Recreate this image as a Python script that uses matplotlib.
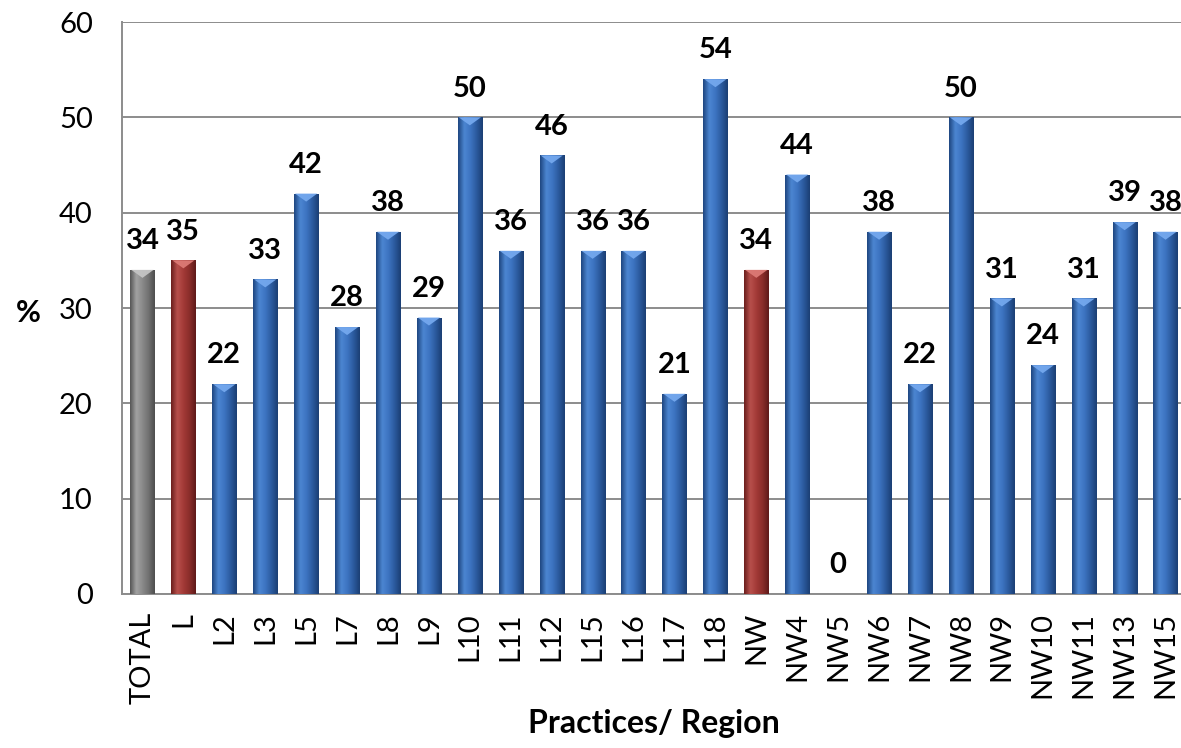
import matplotlib
matplotlib.use("Agg")
import matplotlib.pyplot as plt
import numpy as np
from matplotlib.colors import LinearSegmentedColormap
from matplotlib.patches import Polygon

plt.rcParams['font.family'] = ['Lato', 'DejaVu Sans']

categories = ["TOTAL", "L", "L2", "L3", "L5", "L7", "L8", "L9", "L10", "L11", "L12",
              "L15", "L16", "L17", "L18", "NW", "NW4", "NW5", "NW6", "NW7", "NW8",
              "NW9", "NW10", "NW11", "NW13", "NW15"]
values = [34, 35, 22, 33, 42, 28, 38, 29, 50, 36, 46, 36, 36, 21, 54, 34, 44, 0,
          38, 22, 50, 31, 24, 31, 39, 38]
groups = ["total", "region"] + ["practice"] * 13 + ["region"] + ["practice"] * 10
yticks = [0, 10, 20, 30, 40, 50, 60]

palettes = {
    "practice": ["#1E4680", "#4C86D2", "#3D74C1", "#2B5A9E", "#1B3F74"],
    "region":   ["#6A1E1C", "#B8504C", "#A33A37", "#8A2D2A", "#5E1A19"],
    "total":    ["#555555", "#A2A2A2", "#8A8A8A", "#717171", "#4E4E4E"],
}
bevel_col = {"practice": "#74A8EE", "region": "#DC7A75", "total": "#C4C4C4"}

W, H = 1181, 748
fig = plt.figure(figsize=(W / 100, H / 100), dpi=100)
ax = fig.add_axes([122 / W, 154 / H, 1064 / W, 572 / H])

x = np.arange(len(categories))
bw = 0.59
bars = ax.bar(x, values, width=bw, color="none", edgecolor="none", zorder=3)
ax.set_xlim(-0.5, len(categories) - 0.5)
ax.set_ylim(0, 60)

px_per_unit = 572 / 60.0
bevel_h = 8 / px_per_unit

grad = np.linspace(0, 1, 64).reshape(1, -1)
for rect, v, g in zip(bars, values, groups):
    if v <= 0:
        continue
    cmap = LinearSegmentedColormap.from_list(g, palettes[g])
    x0 = rect.get_x()
    im = ax.imshow(grad, cmap=cmap, aspect="auto", extent=[x0, x0 + bw, 0, v],
                   zorder=3, interpolation="bicubic")
    im.set_clip_path(rect)
    # top bevel (light downward triangle)
    tri = Polygon([[x0 + bw * 0.04, v], [x0 + bw * 0.96, v], [x0 + bw * 0.5, v - bevel_h]],
                  closed=True, facecolor=bevel_col[g], edgecolor="none", zorder=4, alpha=0.95)
    ax.add_patch(tri)

for xi, v in zip(x, values):
    ax.annotate(str(v), (xi, v), xytext=(0, 15), textcoords="offset points",
                ha="center", va="baseline", fontsize=21, fontweight="bold", color="black",
                zorder=5)

ax.set_yticks(yticks)
ax.set_xticks(x)
ax.set_xticklabels(categories, rotation=90, fontsize=21)
ax.tick_params(axis="x", length=0, pad=13)
ax.tick_params(axis="y", length=0, pad=21, labelsize=21)
ax.yaxis.grid(True, color="#8C8C8C", linewidth=1.4, zorder=0)
ax.set_axisbelow(True)
for s in ["top", "right"]:
    ax.spines[s].set_visible(False)
for s in ["left", "bottom"]:
    ax.spines[s].set_color("#8C8C8C")
    ax.spines[s].set_linewidth(1.4)

ax.set_ylabel("%", rotation=0, fontsize=22, fontweight="bold", va="center", ha="center")
ax.yaxis.set_label_coords((28 - 122) / 1064, (594 - 313) / 572)
ax.set_xlabel("Practices/ Region", fontsize=23, fontweight="bold", va="center")
ax.xaxis.set_label_coords(0.5, (594 - 723) / 572)

fig.savefig("out.png", dpi=100)
